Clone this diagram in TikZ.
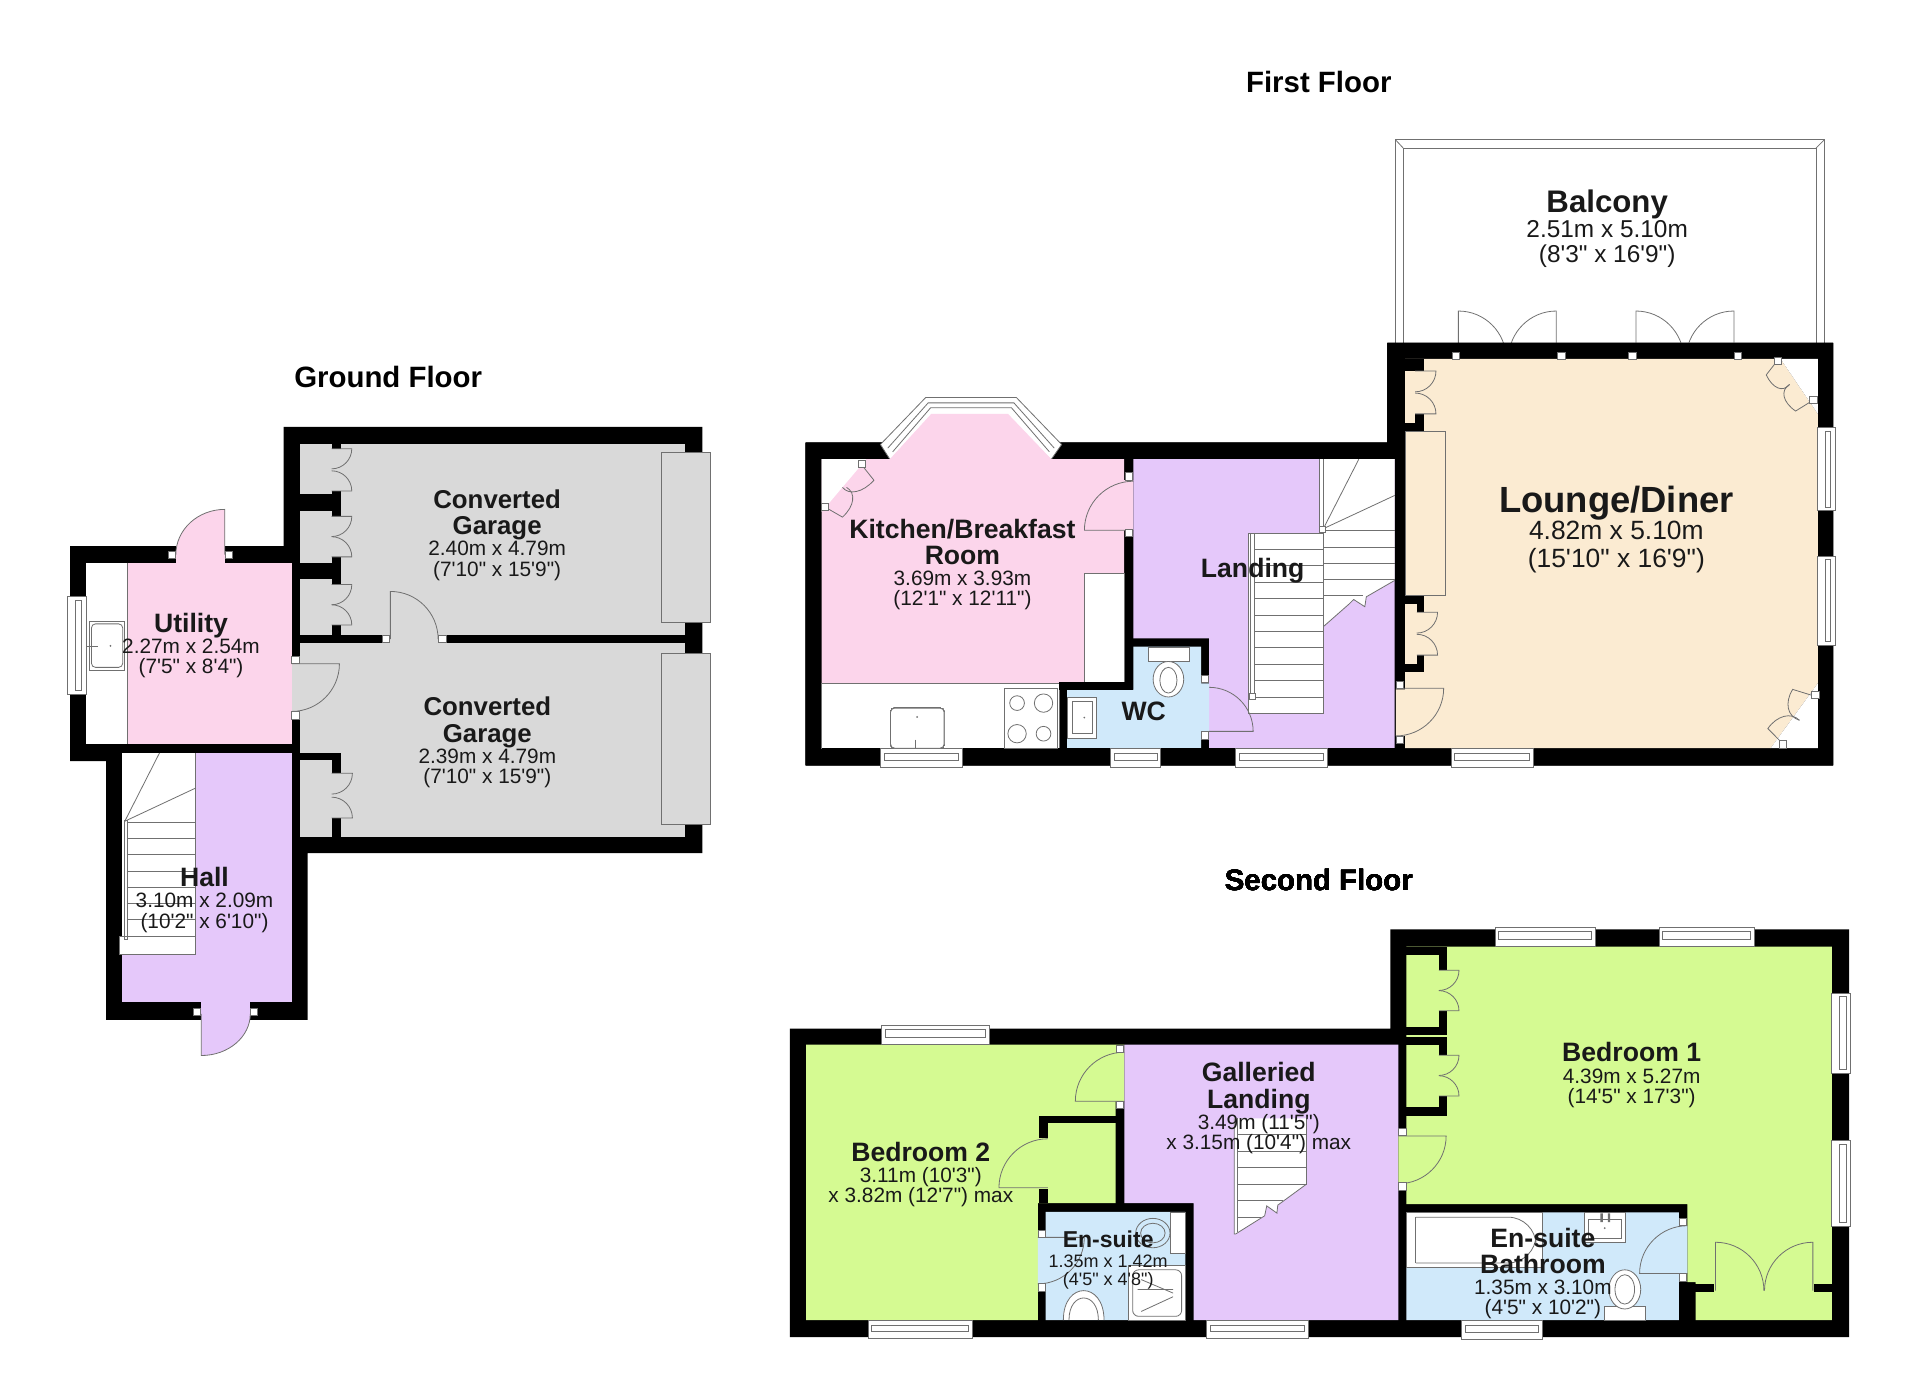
\documentclass[tikz,border=0pt]{standalone}
\usepackage{fontspec}
\newfontfamily\roomfont{Liberation Sans}
\definecolor{roompink}{HTML}{FCD5EB}
\definecolor{roomgrey}{HTML}{D9D9D9}
\definecolor{roomlilac}{HTML}{E5C8FA}
\definecolor{roomcream}{HTML}{FBEBD2}
\definecolor{roomgreen}{HTML}{D5FA92}
\definecolor{roomblue}{HTML}{D0E9FA}
\definecolor{linegrey}{HTML}{707070}
\tikzset{
	wall/.style={fill=black},
	fineline/.style={draw=linegrey,line width=.4pt},
	fixture/.style={fineline,fill=white},
	roomtag/.style={font=\roomfont,align=center,inner sep=0pt,text=black!90},
	floortag/.style={font=\roomfont\bfseries\fontsize{14.7}{16}\selectfont,inner sep=0pt}
}
% sizes of the two kinds of line in a room label
\newcommand{\nm}[2][13.3]{\bfseries\fontsize{#1}{#1}\selectfont #2}
\newcommand{\dm}[2][10.4]{\mdseries\fontsize{#1}{#1}\selectfont #2}
% door leaf: [fill]{hinge x}{hinge y}{open ux}{uy}{shut vx}{vy}{length}
\newcommand{\doorleaf}[8][none]{
	\path[fill=#1] (#2,#3) -- ++({#8*#4},{#8*#5})
		.. controls +({.5523*#8*#6},{.5523*#8*#7}) and ({#2+#8*#6+.5523*#8*#4},{#3+#8*#7+.5523*#8*#5}) .. ({#2+#8*#6},{#3+#8*#7}) -- cycle;
	\draw[fineline] (#2,#3) -- ++({#8*#4},{#8*#5})
		.. controls +({.5523*#8*#6},{.5523*#8*#7}) and ({#2+#8*#6+.5523*#8*#4},{#3+#8*#7+.5523*#8*#5}) .. ({#2+#8*#6},{#3+#8*#7});
}
\newcommand{\closetpair}[4]{\doorleaf{#1}{#2}{1}{0}{0}{1}{#4}\doorleaf{#1}{#3}{1}{0}{0}{-1}{#4}}
\newcommand{\jamb}[2]{\draw[fixture] ({#1-3},{#2-3}) rectangle ({#1+3},{#2+3});}
\newcommand{\hwin}[4]{\draw[fixture] (#1,#3) rectangle (#2,#4); \draw[fineline] ({#1+3},{#3+4}) rectangle ({#2-3},{#4-6});}
\newcommand{\vwin}[4]{\draw[fixture] (#3,#1) rectangle (#4,#2); \draw[fineline] ({#3+6},{#1+3}) rectangle ({#4-4},{#2-3});}
\begin{document}
\begin{tikzpicture}[x=.61224pt,y=-.61224pt]
	\useasboundingbox (0,0) rectangle (1568,1140.07);
	%ground floor
	\begin{scope}[shift={(1.2,2)}]
		\fill[wall] (230.4,346.7) -- (572.3,346.7) -- (572.3,694.8) -- (250,694.8) -- (250,830.8) -- (85.4,830.8) -- (85.4,619.5) -- (56,619.5) -- (56,443.9) -- (230.4,443.9) -- cycle;
		\fill[roomgrey] (243.5,360.2) rectangle (558.5,681.3);
		\fill[roomgrey] (237,540) rectangle (243.5,580.3);
		\fill[white] (69,457.4) rectangle (102.5,606);
		\fill[roompink] (102.5,457.4) rectangle (237,606);
		\fill[roompink] (142.4,443.9) rectangle (182.4,457.4);
		\fill[roomlilac] (98.8,613) rectangle (237,816.6);
		\fill[roomlilac] (163.2,816.6) rectangle (203,830.8);
		\draw[fineline] (102.5,457.4) -- (102.5,606);
		% closets of the garages
		\fill[wall] (269.6,360.2) rectangle (277,364.4);
		\fill[wall] (269.6,399) rectangle (277,419.7);
		\fill[wall] (243.5,401.7) rectangle (277,415);
		\fill[wall] (269.6,452.8) rectangle (277,475.4);
		\fill[wall] (243.5,457.4) rectangle (277,470.8);
		\fill[wall] (269.6,508.4) rectangle (277,517);
		\fill[wall] (243.5,516.9) rectangle (311,523.4);
		\fill[wall] (363,516.9) rectangle (558.5,523.4);
		\fill[wall] (243.5,613) rectangle (277,618.7);
		\fill[wall] (269.6,618.7) rectangle (277,629.5);
		\fill[wall] (269.6,666) rectangle (277,681.3);
		\closetpair{269.6}{364.4}{399}{16.5}
		\closetpair{269.6}{419.7}{452.8}{16.5}
		\closetpair{269.6}{475.4}{508.4}{16.5}
		\closetpair{269.6}{629.5}{666}{17}
		\draw[fineline,fill=roomgrey] (539,367.8) rectangle (579,506.5);
		\draw[fineline,fill=roomgrey] (539,531.5) rectangle (579,671.3);
		% doors
		\doorleaf{237}{540}{1}{0}{0}{1}{39}
		\doorleaf{317.6}{520}{0}{-1}{1}{0}{39}
		\doorleaf[roompink]{182.4}{451}{0}{-37}{-40}{0}{1}
		\doorleaf[roomlilac]{163.2}{826}{0}{34}{40}{0}{1}
		\jamb{240}{536.7}\jamb{240}{582.2}\jamb{313.8}{520}\jamb{360}{520}
		\jamb{139.2}{451}\jamb{185.6}{451}\jamb{159.8}{824.2}\jamb{206.1}{824.2}
		\vwin{485}{565}{54}{69}
		% sink of the utility
		\draw[fixture] (71.6,505.4) rectangle (100.7,545.7);
		\draw[fineline,rounded corners=2] (73.5,507.5) rectangle (99,543);
		\draw[fineline] (70,525.5) -- (79,525.5);
		\fill[linegrey] (89,525.5) circle (.8);
		% stairs of the hall
		\fill[white] (98.8,613) rectangle (158.1,762.8);
		\fill[white] (96.3,762.8) rectangle (158.1,777.4);
		\draw[fineline] (158.1,613) -- (158.1,777.4) -- (96.3,777.4) -- (96.3,762.8) -- (158.1,762.8);
		\foreach \y in {669.8,683,696,709.5,722.5,735.5,749} \draw[fineline] (102.5,\y) -- (158.1,\y);
		\draw[fineline] (100.7,668.7) -- (129,613);
		\draw[fineline] (100.7,668.7) -- (158.1,641.8);
		\draw[fineline] (100.7,668) rectangle (102.5,765);
	\end{scope}
	\node[floortag] (groundtitle) at (317,308) {Ground Floor};
	\node[roomtag] (garageupper) at (406,437) {\nm[12.9]{Converted}\\[1.2pt]\nm[12.9]{Garage}\\[-1.4pt]\dm{2.40m x 4.79m}\\[-1.9pt]\dm{(7'10" x 15'9")}};
	\node[roomtag] (garagelower) at (398,606.5) {\nm[12.9]{Converted}\\[1.2pt]\nm[12.9]{Garage}\\[-1.4pt]\dm{2.39m x 4.79m}\\[-1.9pt]\dm{(7'10" x 15'9")}};
	\node[roomtag] (utility) at (156,527) {\nm{Utility}\\[-1.4pt]\dm{2.27m x 2.54m}\\[-1.9pt]\dm{(7'5" x 8'4")}};
	\node[roomtag] (hall) at (167,735) {\nm{Hall}\\[-1.4pt]\dm{3.10m x 2.09m}\\[-1.9pt]\dm{(10'2" x 6'10")}};
	%first floor
	\draw[fineline] (1139.5,280) -- (1139.5,114) -- (1490,114) -- (1490,280);
	\draw[fineline] (1146,280) -- (1146,121) -- (1483,121) -- (1483,280);
	\draw[fineline] (1139.5,114) -- (1146,121) (1490,114) -- (1483,121);
	\foreach \a/\b in {1191/1,1271/-1,1336/1,1416/-1}
		\doorleaf{\a}{293}{0}{-1}{\b}{0}{39}
	\fill[wall] (658,361.5) -- (1133,361.5) -- (1133,280) -- (1497,280) -- (1497,625) -- (658,625) -- cycle;
	\draw[fixture] (719,363) -- (756,324.6) -- (830,324.6) -- (867,363) -- (858.6,375) -- (726.7,375) -- cycle;
	\draw[fineline] (725,366) -- (758,329) -- (828,329) -- (861,366);
	\draw[fineline] (729,369) -- (760,333) -- (826,333) -- (857,369);
	\fill[roompink] (671,375) -- (726.7,375) -- (760.5,338) -- (823.2,338) -- (858.6,375) -- (918,375) -- (918,392) -- (925.6,392) -- (925.6,433) -- (918,433) -- (918,558) -- (671,558) -- cycle;
	\fill[white] (671,375) -- (707.4,375) -- (671,418) -- cycle;
	\draw[fixture] (671,558) rectangle (865,611);
	\draw[fixture] (885.4,468.4) rectangle (918,558);
	\fill[roomlilac] (925.6,375) -- (1139,375) -- (1139,611) -- (987.4,611) -- (987.4,521.3) -- (925.6,521.3) -- cycle;
	\fill[roomblue] (925.6,528) -- (981,528) -- (981,558) -- (987.4,558) -- (987.4,597.3) -- (981,597.3) -- (981,611) -- (871.5,611) -- (871.5,563.4) -- (925.6,563.4) -- cycle;
	\fill[wall] (671,611) rectangle (1139,613);
	\fill[wall] (865,556.6) rectangle (925.6,563.4);
	\fill[roomcream] (1147.5,293) -- (1454,293) -- (1484.5,338) -- (1484.5,558) -- (1446,611) -- (1147.5,611) -- (1147.5,601) -- (1140,601) -- (1140,563) -- (1147.5,563) -- cycle;
	\fill[white] (1454,293) -- (1484.5,293) -- (1484.5,338) -- cycle;
	\fill[white] (1484.5,558) -- (1484.5,611) -- (1446,611) -- cycle;
	% closets of the lounge
	\fill[wall] (1147.5,293) rectangle (1163,303);
	\fill[wall] (1155.7,338) rectangle (1163,345.7);
	\fill[wall] (1147.5,345.7) rectangle (1163,352.6);
	\fill[wall] (1147.5,487) rectangle (1163,493);
	\fill[wall] (1157,493) rectangle (1163,500);
	\fill[wall] (1157,535) rectangle (1163,542);
	\fill[wall] (1147.5,542) rectangle (1163,549);
	\closetpair{1155.7}{303}{338}{17}
	\closetpair{1157}{500}{535}{17}
	\draw[fineline,fill=roomcream] (1147.5,352.6) rectangle (1180,486.5);
	% stairs of the landing
	\fill[white] (1077.5,375) -- (1139,375) -- (1139,474) -- (1115.8,487.4) -- (1114.6,495.5) -- (1105.5,489.6) -- (1101.6,493.4) -- (1080.7,511.8) -- (1077.5,511.8) -- cycle;
	\draw[fineline] (1139,474) -- (1115.8,487.4) -- (1114.6,495.5) -- (1105.5,489.6) -- (1101.6,493.4) -- (1080.7,511.8);
	\draw[fixture] (1019.6,435.8) rectangle (1080.7,582.4);
	\foreach \y in {448.6,462,475.4,488.8,502.2,515.6,529,542.4,555.8,569.3} \draw[fineline] (1024.4,\y) -- (1080.7,\y);
	\foreach \y in {433,446.7,460,473.3} \draw[fineline] (1080.7,\y) -- (1139,\y);
	\draw[fineline] (1080.7,486) -- (1113,486);
	\draw[fineline] (1080.7,431.8) -- (1109.7,375);
	\draw[fineline] (1080.7,431.8) -- (1139,404.6);
	\draw[fineline] (1077.5,375) -- (1077.5,431.8) (1080.7,375) -- (1080.7,511.8);
	\draw[fineline] (1021,435.8) rectangle (1024.4,569.3);
	\draw[fixture] (1077.5,429.8) rectangle (1082.5,434.8);
	\draw[fixture] (1020,566.5) rectangle (1025,571.5);
	% doors
	\doorleaf{925.6}{433}{-1}{0}{0}{-1}{40}
	\doorleaf{987.4}{597.3}{1}{0}{0}{-1}{36}
	\doorleaf{1140}{562}{1}{0}{0}{1}{39}
	\doorleaf{704}{380}{9.7}{12.2}{-16}{18}{1}
	\doorleaf{673.6}{414}{14.4}{8.3}{17.7}{-16}{1}
	\doorleaf{1451.9}{294}{-9.5}{12.2}{9.5}{20}{1}
	\doorleaf{1480.4}{327}{-14}{8.7}{-19}{-13}{1}
	\doorleaf{1481.8}{568.5}{-17.8}{-5.5}{-12.3}{19.7}{1}
	\doorleaf{1456}{607.4}{-12.3}{-12.4}{13.5}{-19.2}{1}
	\foreach \a/\b in {921.8/389.2,921.8/435.3,984.2/554.5,984.2/600.7,1143.5/559.5,1143.5/604.5,1189/290.5,1275/290.5,1333/290.5,1419.5/290.5} \jamb{\a}{\b}
	\foreach \a/\b in {704/379,673.6/414,1452/294.5,1481/326.5,1482.5/567.5,1456/608} \jamb{\a}{\b}
	% windows
	\hwin{719}{786}{611}{627}
	\hwin{907}{948}{611}{627}
	\hwin{1009}{1084}{611}{627}
	\hwin{1185}{1252}{611}{627}
	\vwin{349}{417}{1484.5}{1499}
	\vwin{454}{527}{1484.5}{1499}
	% kitchen and wc fittings
	\draw[fixture,rounded corners=2] (727.3,578.3) rectangle (771,611);
	\draw[fineline] (747.5,604) -- (747.5,611);
	\fill[linegrey] (749,585.5) circle (.8);
	\draw[fixture] (820.6,562) rectangle (863.5,611);
	\draw[fineline] (830.6,574.2) circle (6) (852.2,574.2) circle (7.5) (830.6,599.2) circle (7.5) (852.2,599.2) circle (6);
	\draw[fixture] (871.5,569.6) rectangle (895.7,602.7);
	\draw[fineline] (876,573) rectangle (892,599);
	\fill[linegrey] (885.5,586) circle (.8);
	\draw[fixture] (937.5,529) rectangle (971.3,540.3);
	\draw[fixture] (954.2,554.7) ellipse (12.5 and 14.5);
	\draw[fineline] (954.2,555.5) ellipse (7 and 10.5);
	\node[floortag] (firsttitle) at (1077,67) {First Floor};
	\node[roomtag] (balcony) at (1312.5,186.5) {\nm[15.6]{Balcony}\\[.9pt]\dm[12.2]{2.51m x 5.10m}\\[.2pt]\dm[12.2]{(8'3" x 16'9")}};
	\node[roomtag] (lounge) at (1320,432.5) {\nm[18.2]{Lounge/Diner}\\[-1pt]\dm[13.2]{4.82m x 5.10m}\\[2.1pt]\dm[13.2]{(15'10" x 16'9")}};
	\node[roomtag] (kitchen) at (786,461) {\nm{Kitchen/Breakfast}\\[1.2pt]\nm{Room}\\[-1.4pt]\dm{3.69m x 3.93m}\\[-1.9pt]\dm{(12'1" x 12'11")}};
	\node[roomtag] (landing) at (1023,466) {\nm{Landing}};
	\node[roomtag] (wc) at (934,581) {\nm{WC}};
	%second floor
	\fill[wall] (645,840) -- (1135.5,840) -- (1135.5,759) -- (1510,759) -- (1510,1092) -- (645,1092) -- cycle;
	\fill[roomgreen] (658.4,853.2) -- (918.2,853.2) -- (918.2,899.3) -- (911,899.3) -- (911,982.6) -- (847.5,982.6) -- (847.5,1078) -- (658.4,1078) -- cycle;
	\fill[roomlilac] (918.2,853.2) -- (1142,853.2) -- (1142,1078) -- (974.7,1078) -- (974.7,982.6) -- (918.2,982.6) -- cycle;
	\fill[roomblue] (854,989.6) -- (968,989.6) -- (968,1078) -- (854,1078) -- (854,1048.6) -- (847.5,1048.6) -- (847.5,1010.5) -- (854,1010.5) -- cycle;
	\fill[roomgreen] (1148.6,773) -- (1496,773) -- (1496,1078) -- (1384.7,1078) -- (1384.7,1047) -- (1378,1047) -- (1378,983.4) -- (1148.6,983.4) -- (1148.6,966) -- (1142,966) -- (1142,927.7) -- (1148.6,927.7) -- cycle;
	\fill[roomblue] (1148.6,990) -- (1371,990) -- (1371,1001) -- (1378,1001) -- (1378,1040) -- (1371,1040) -- (1371,1078) -- (1148.6,1078) -- cycle;
	% inner walls
	\fill[wall] (848.8,911) rectangle (911,917.5);
	\fill[wall] (848.8,917.5) rectangle (855.8,929);
	\fill[wall] (848.8,971) rectangle (855.8,982.6);
	\fill[wall] (911,853.2) rectangle (918.2,860);
	\fill[wall] (1148.6,773) rectangle (1182,780);
	\fill[wall] (1175,780) rectangle (1182,792.4);
	\fill[wall] (1175,825.5) rectangle (1182,838.5);
	\fill[wall] (1148.6,838.5) rectangle (1182,845.3);
	\fill[wall] (1148.6,846.7) rectangle (1182,853.5);
	\fill[wall] (1175,853.5) rectangle (1182,861.8);
	\fill[wall] (1175,895) rectangle (1182,905);
	\fill[wall] (1148.6,904) rectangle (1182,911);
	\fill[wall] (1378,1048.5) rectangle (1399.6,1055.3);
	\fill[wall] (1481.6,1048.5) rectangle (1496,1055.3);
	\closetpair{1175}{792.4}{825.5}{16.5}
	\closetpair{1175}{861.8}{895}{16.5}
	% stairs of the galleried landing
	\fill[white] (1008,913.4) -- (1067,913.4) -- (1067,967) -- (1043.5,984.2) -- (1042.8,990.7) -- (1034.5,984.8) -- (1032.8,992.9) -- (1009,1007.8) -- (1008,1007.8) -- cycle;
	\draw[fineline] (1067,913.4) -- (1067,967) -- (1043.5,984.2) -- (1042.8,990.7) -- (1034.5,984.8) -- (1032.8,992.9) -- (1009,1007.8) -- (1008,1007.8) -- (1008,913.4);
	\draw[fineline] (1010.5,913.4) -- (1010.5,1006);
	\foreach \y/\xr in {926.4/1067,940/1067,953.5/1067,967/1067,980.7/1048,994.3/1030} \draw[fineline] (1010.5,\y) -- (\xr,\y);
	% fittings
	\draw[fixture] (955.8,990) rectangle (968,1023.6);
	\draw[fineline,fill=roomblue] (941.5,1007) ellipse (14 and 12);
	\draw[fineline] (941.5,1007) ellipse (10 and 8);
	\draw[fixture] (921.6,1033) rectangle (968,1078);
	\draw[fineline,rounded corners=3] (925,1037) rectangle (965,1075);
	\draw[fineline] (929,1053) -- (958,1053) (932,1045) -- (958,1056) (932,1071) -- (958,1059);
	\draw[fineline,fill=white] (868.4,1078) .. controls (868.4,1046) and (901.6,1046) .. (901.6,1078);
	\draw[fineline] (873,1078) .. controls (873,1054) and (897,1054) .. (897,1078);
	\draw[fixture] (1148.6,990) rectangle (1259.3,1035);
	\draw[fineline,rounded corners=14] (1156.2,994) -- (1254.4,994) -- (1254.4,1031.4) -- (1156.2,1031.4);
	\draw[fineline] (1156.2,994) -- (1156.2,1031.4);
	\draw[fixture] (1293.8,990) rectangle (1327,1014.6);
	\draw[fineline] (1297,996) rectangle (1324,1011);
	\fill[linegrey] (1310.5,1003) circle (.8);
	\fill[linegrey] (1307,991) rectangle (1309,998) (1313,991) rectangle (1315,998);
	\draw[fixture] (1310.6,1066.7) rectangle (1343.5,1078);
	\draw[fixture] (1326.9,1053) ellipse (13 and 16);
	\draw[fineline] (1326.9,1053) ellipse (8 and 12);
	% doors
	\doorleaf{918.2}{899.3}{-1}{0}{0}{-1}{40}
	\doorleaf{855.8}{970}{-1}{0}{0}{-1}{40}
	\doorleaf{847.5}{1010.5}{1}{0}{0}{1}{38}
	\doorleaf{1142}{927.7}{1}{0}{0}{1}{39}
	\doorleaf{1378}{1040}{-1}{0}{0}{-1}{39}
	\doorleaf{1401}{1054}{0}{-1}{1}{0}{39.5}
	\doorleaf{1480.5}{1054}{0}{-1}{-1}{0}{39.5}
	\foreach \a/\b in {914.6/856.5,914.6/902.5,851/1007.5,851/1051.5,1145.3/924.5,1145.3/969,1374.5/998,1374.5/1043.3} \jamb{\a}{\b}
	% windows
	\hwin{720}{808}{837}{853.2}
	\hwin{709}{794}{1078}{1093}
	\hwin{985.5}{1068.5}{1078}{1093}
	\hwin{1193.5}{1259.5}{1078}{1094}
	\hwin{1221}{1302.5}{757}{773}
	\hwin{1355}{1432.5}{757}{773}
	\vwin{811}{876.7}{1496}{1511.5}
	\vwin{931.6}{1001.4}{1496}{1511.5}
	\node[floortag] (secondtitle) at (1077,719) {Second Floor};
	\node[roomtag] (bedroomone) at (1332.5,878) {\nm{Bedroom 1}\\[-1.4pt]\dm{4.39m x 5.27m}\\[-1.9pt]\dm{(14'5" x 17'3")}};
	\node[roomtag] (bedroomtwo) at (752,959) {\nm{Bedroom 2}\\[-1.4pt]\dm{3.11m (10'3")}\\[-1.9pt]\dm{x 3.82m (12'7") max}};
	\node[roomtag] (gallery) at (1028,905) {\nm{Galleried}\\[1.2pt]\nm{Landing}\\[-1.4pt]\dm{3.49m (11'5")}\\[-1.9pt]\dm{x 3.15m (10'4") max}};
	\node[roomtag] (ensuitesmall) at (905,1029) {\nm[11.5]{En-suite}\\[-2pt]\dm[9]{1.35m x 1.42m}\\[-2.8pt]\dm[9]{(4'5" x 4'8")}};
	\node[roomtag] (ensuitebath) at (1260,1040) {\nm{En-suite}\\[1.2pt]\nm{Bathroom}\\[-1.4pt]\dm{1.35m x 3.10m}\\[-1.9pt]\dm{(4'5" x 10'2")}};
\end{tikzpicture}
\end{document}
